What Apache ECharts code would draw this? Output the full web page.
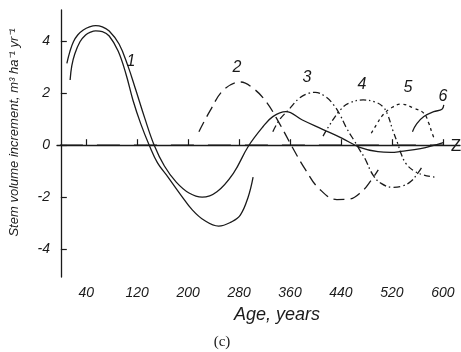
<!DOCTYPE html>
<html>
<head>
<meta charset="utf-8">
<script src="https://cdn.jsdelivr.net/npm/echarts@6/dist/echarts.min.js"></script>
<style>html,body{margin:0;padding:0;background:#fff}#c{width:461px;height:352px}</style>
</head>
<body>
<div id="c"></div>
<script>
// Age (years), stem volume increment (m3 ha-1 yr-1)
const xTicks = [40, 120, 200, 280, 360, 440, 520, 600];
const yTicks = [-4, -2, 0, 2, 4];
const zLine = [[-1.4, 0], [601, 0]];
const curve1Outer = [[9.5,3.15],[14.1,3.59],[19.8,3.98],[26.5,4.24],[35.3,4.43],[45.1,4.55],[54.8,4.60],[65.2,4.55],[76.0,4.39],[91.5,3.89],[105.4,3.05],[117.8,2.12],[131.7,1.05],[146.5,0.01],[162.7,-0.80],[181.3,-1.42],[201.4,-1.84],[222.0,-2.00],[245.2,-1.79],[271.0,-1.08],[294.3,-0.05],[317.5,0.71],[333.0,1.10],[353.5,1.29],[379.4,0.97],[410.3,0.62],[441.3,0.27],[469.6,-0.08],[498.1,-0.25],[518.7,-0.28],[534.2,-0.24],[565.1,-0.13],[600.7,0.10]];
const curve1Inner = [[14.6,2.51],[17.2,3.05],[21.9,3.51],[30.1,3.98],[38.9,4.24],[46.6,4.35],[54.8,4.40],[65.2,4.37],[76.0,4.20],[90.0,3.62],[102.3,2.74],[113.2,1.74],[125.6,0.82],[138.7,0.01],[151.9,-0.68],[167.8,-1.21],[188.6,-1.92],[206.5,-2.49],[224.6,-2.88],[247.8,-3.11],[268.0,-2.95],[281.9,-2.69],[294.3,-1.99],[302.0,-1.23]];
const curve2 = [[216.9,0.52],[235.0,1.35],[255.6,2.12],[281.9,2.43],[302.0,2.19],[322.6,1.67],[343.3,0.84],[363.9,-0.09],[384.5,-0.95],[405.2,-1.66],[433.6,-2.09],[451.7,-2.08],[472.3,-1.79],[487.7,-1.34],[498.6,-0.95]];
const curve3 = [[333.0,0.52],[343.3,0.97],[358.8,1.39],[374.3,1.80],[389.8,2.00],[399.5,2.03],[415.5,1.87],[428.5,1.55],[438.7,1.16],[449.0,0.65],[461.9,0.13],[469.6,-0.19],[477.4,-0.50],[490.4,-1.15],[503.2,-1.47],[521.3,-1.62],[536.8,-1.57],[549.6,-1.40],[562.5,-1.02],[568.2,-0.80]];
const curve4 = [[411.9,0.35],[421.2,0.74],[430.9,1.10],[438.7,1.35],[451.7,1.61],[474.9,1.74],[492.8,1.67],[505.8,1.48],[513.6,1.16],[521.3,0.58],[529.1,0.07],[534.2,-0.31],[541.9,-0.70],[554.8,-0.99],[570.2,-1.15],[588.3,-1.23]];
const curve5 = [[487.7,0.46],[495.5,0.78],[505.8,1.16],[518.7,1.43],[534.2,1.58],[554.8,1.42],[570.2,1.23],[578.0,0.84],[583.2,0.46],[586.8,0.24]];
const curve6 = [[552.3,0.52],[558.9,0.82],[570.2,1.10],[585.7,1.29],[598.7,1.38],[601.5,1.55]];

const ink = '#1a1a1a';
const font = 'Liberation Sans, Arial, sans-serif';
function line(name, data, type, smooth) {
  return {
    name: name, type: 'line', data: data, symbol: 'none', smooth: smooth === undefined ? 0.4 : smooth,
    silent: true, animation: false,
    lineStyle: { color: ink, width: 1.3, type: type }
  };
}
const chart = echarts.init(document.getElementById('c'), null, { renderer: 'canvas' });
chart.setOption({
  animation: false,
  backgroundColor: '#fff',
  grid: { left: 51, right: 1, top: 10, bottom: 75 },
  xAxis: {
    type: 'value', min: -6, max: 627,
    name: 'Age, years', nameLocation: 'middle', nameGap: 29,
    nameTextStyle: { fontFamily: font, fontStyle: 'italic', fontSize: 18, color: ink, padding: [0, 0, 0, 37] },
    axisLine: { lineStyle: { color: ink, width: 1.3 } },
    axisTick: { show: true, inside: true, length: 6, customValues: xTicks, lineStyle: { color: ink, width: 1.2 } },
    axisLabel: { customValues: xTicks, margin: 9, fontFamily: font, fontStyle: 'italic', fontSize: 14, color: ink },
    splitLine: { show: false }
  },
  yAxis: {
    type: 'value', min: -5.07, max: 5.2,
    name: 'Stem volume increment, m³ ha⁻¹ yr⁻¹', nameLocation: 'middle', nameGap: 36, nameRotate: 90,
    nameTextStyle: { fontFamily: font, fontStyle: 'italic', fontSize: 13, color: ink, padding: [0, 0, 0, 22] },
    axisLine: { show: true, lineStyle: { color: ink, width: 1.3 } },
    axisTick: { show: true, inside: true, length: 6, customValues: yTicks, lineStyle: { color: ink, width: 1.2 } },
    axisLabel: { customValues: yTicks, margin: 7, fontFamily: font, fontStyle: 'italic', fontSize: 14, color: ink },
    splitLine: { show: false }
  },
  series: [
    line('Z', zLine, [23, 14], false),
    line('1a', curve1Outer, 'solid'),
    line('1b', curve1Inner, 'solid'),
    line('2', curve2, [11, 6]),
    line('3', curve3, [7, 3, 1.5, 3]),
    line('4', curve4, [6, 3, 1.5, 3, 1.5, 3]),
    line('5', curve5, [3, 3.5]),
    line('6', curve6, 'solid')
  ],
  graphic: [
    { type: 'text', x: 131, y: 62, style: { text: '1', font: 'italic 16px ' + font, fill: ink, align: 'center', verticalAlign: 'middle' } },
    { type: 'text', x: 237, y: 68, style: { text: '2', font: 'italic 16px ' + font, fill: ink, align: 'center', verticalAlign: 'middle' } },
    { type: 'text', x: 307, y: 78, style: { text: '3', font: 'italic 16px ' + font, fill: ink, align: 'center', verticalAlign: 'middle' } },
    { type: 'text', x: 362, y: 85, style: { text: '4', font: 'italic 16px ' + font, fill: ink, align: 'center', verticalAlign: 'middle' } },
    { type: 'text', x: 408, y: 88, style: { text: '5', font: 'italic 16px ' + font, fill: ink, align: 'center', verticalAlign: 'middle' } },
    { type: 'text', x: 443, y: 97, style: { text: '6', font: 'italic 16px ' + font, fill: ink, align: 'center', verticalAlign: 'middle' } },
    { type: 'text', x: 456, y: 146, style: { text: 'Z', font: '17px ' + font, fill: ink, align: 'center', verticalAlign: 'middle' } },
    { type: 'text', x: 222, y: 342, style: { text: '(c)', font: '15px Liberation Serif, Times New Roman, serif', fill: ink, align: 'center', verticalAlign: 'middle' } }
  ]
});
</script>
</body>
</html>
